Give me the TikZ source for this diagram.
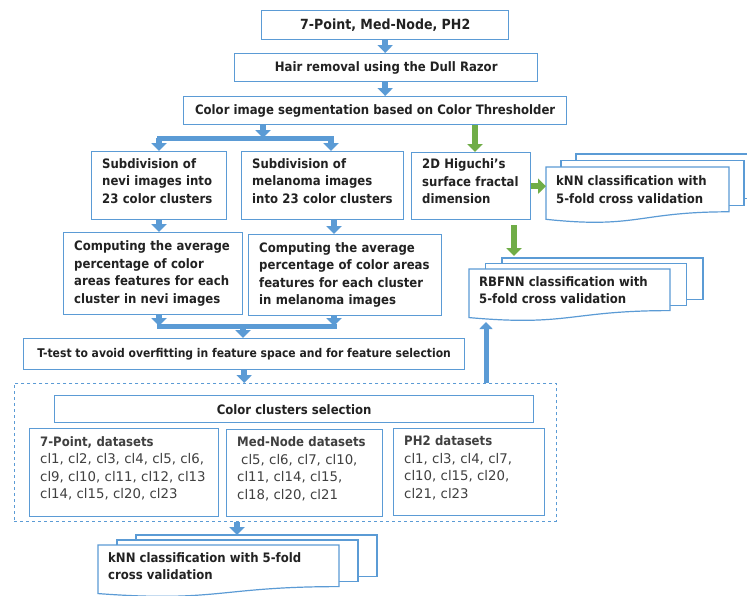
\documentclass[tikz,border=0pt]{standalone}
\usepackage{fontspec}
\setmainfont{DejaVu Sans Condensed}[BoldFont={DejaVu Sans Condensed Bold}]
\newfontfamily\clustfamily{DejaVu Sans}
\newcommand\clustfont{\clustfamily\mdseries\fontsize{13.3}{17.5}\selectfont\color{listtxt}}
\newcommand\liftup{\rule[-10pt]{0pt}{10pt}}
\usetikzlibrary{arrows.meta}

\definecolor{boxblue}{HTML}{5B9BD5}
\definecolor{arrblue}{HTML}{5B9BD5}
\definecolor{arrgreen}{HTML}{70AD47}
\definecolor{txt}{HTML}{222222}
\definecolor{listtxt}{HTML}{404040}

% stacked documents: name, x, y, width, height, dx, dy, text
\newcommand\multidoc[8]{%
  \filldraw[sheet] (#2+2*#6,#3+2*#7) rectangle ++(#4,0.8*#5);
  \filldraw[sheet] (#2+#6,#3+#7) rectangle ++(#4,0.8*#5);
  \filldraw[sheet] (#2,#3) -- (#2+#4,#3) -- (#2+#4,#3+0.8*#5)
    .. controls (#2+0.5*#4,#3+0.8*#5) and (#2+0.5*#4,#3+1.107*#5) .. (#2,#3+0.934*#5) -- cycle;
  \node[anchor=north west,minimum width=#4pt,minimum height={0.8*#5pt},inner sep=0pt] (#1) at (#2,#3) {};
  \node[anchor=west,align=left,inner sep=0pt,text=txt] (#1-txt) at ([xshift=10pt]#1.west) {#8};
}

\begin{document}
\begin{tikzpicture}[x=1pt,y=-1pt,font=\bfseries\fontsize{13}{17.5}\selectfont,
  box/.style={draw=boxblue,line width=1.4pt,fill=white,anchor=north west,inner xsep=10pt,inner ysep=0pt,text=txt},
  sheet/.style={draw=boxblue,line width=1.2pt,fill=white},
  barrow/.style={draw=arrblue,line width=6.5pt,-{Triangle[width=15pt,length=8pt]}},
  garrow/.style={draw=arrgreen,line width=6.5pt,-{Triangle[width=15pt,length=8pt]}},
  bar/.style={draw=arrblue,line width=5pt,line cap=rect}]
\fill[white] (0,0) rectangle (747,595);
\useasboundingbox (0,0) rectangle (747,595);

% main chain
\node[box,minimum width=247pt,minimum height=29pt,font=\bfseries\fontsize{14}{17.5}\selectfont] (data) at (261,10) {7-Point, Med-Node, PH2};
\node[box,minimum width=303pt,minimum height=28pt] (hair) at (234,53) {Hair removal using the Dull Razor};
\node[box,minimum width=383pt,minimum height=28pt] (seg) at (183,96) {Color image segmentation based on Color Thresholder};

\node[box,minimum width=135pt,minimum height=68pt,text width=114pt,align=left] (nsub) at (91,151) {Subdivision of\\nevi images into\\23 color clusters\liftup};
\node[box,minimum width=162pt,minimum height=68pt,text width=141pt,align=left] (msub) at (241,151) {Subdivision of\\melanoma images\\into 23 color clusters\liftup};
\node[box,minimum width=119pt,minimum height=67pt,text width=98pt,align=left] (higu) at (411,152) {2D Higuchi's\\surface fractal\\dimension\liftup};
\node[box,minimum width=179pt,minimum height=82pt,text width=158pt,align=left] (cnevi) at (63,232) {Computing the average\\percentage of color\\areas features for each\\cluster in nevi images};
\node[box,minimum width=193pt,minimum height=81pt,text width=172pt,align=left] (cmel) at (248,234) {Computing the average\\percentage of color areas\\features for each cluster\\in melanoma images};
\node[box,minimum width=441pt,minimum height=31pt,font=\bfseries\fontsize{12}{17.5}\selectfont] (ttest) at (23,338) {T-test to avoid overfitting in feature space and for feature selection};

% selection area
\node[draw=boxblue,dashed,line width=0.9pt,anchor=north west,minimum width=542pt,minimum height=138pt] (selarea) at (14,383) {};
\node[box,minimum width=479pt,minimum height=27pt] (csel) at (54,395) {Color clusters selection};
\node[box,text=listtxt,minimum width=189pt,minimum height=88pt,text width=168pt,align=left] (pt7) at (29,428) {7-Point, datasets\\\clustfont cl1, cl2, cl3, cl4, cl5, cl6,\\cl9, cl10, cl11, cl12, cl13\\cl14, cl15, cl20, cl23\liftup};
\node[box,text=listtxt,minimum width=156pt,minimum height=87pt,text width=135pt,align=left] (mednode) at (226,429) {Med-Node datasets\\\clustfont\hspace*{4pt}cl5, cl6, cl7, cl10,\\cl11, cl14, cl15,\\cl18, cl20, cl21\liftup};
\node[box,text=listtxt,minimum width=151pt,minimum height=87pt,text width=130pt,align=left] (ph2) at (393,428) {PH2 datasets\\\clustfont cl1, cl3, cl4, cl7,\\cl10, cl15, cl20,\\cl21, cl23\liftup};

% classifiers
\multidoc{knnA}{546}{167}{183}{56}{15}{-6.5}{kNN classification with\\5-fold cross validation}
\multidoc{rbf}{469}{269}{201}{52}{16.5}{-5.5}{RBFNN classification with\\5-fold cross validation}
\multidoc{knnB}{98}{545}{241}{52}{19}{-5}{kNN classification with 5-fold\\cross validation}

% connectors
\coordinate (splitL) at (159,138);
\coordinate (splitM) at (263,138);
\coordinate (splitR) at (331,138);
\coordinate (mergeL) at (159,326);
\coordinate (mergeM) at (243,326);
\coordinate (mergeR) at (334,326);
\coordinate (gdown) at (475,152);
\coordinate (rbftop) at (514,256);
\coordinate (rbfbot) at (486,322);
\coordinate (knnBtop) at (237,535);

\draw[barrow] (data.south) -- (data.south |- hair.north);
\draw[barrow] (data.south |- hair.south) -- (data.south |- seg.north);
\draw[bar] (splitL) -- (splitR);
\draw[barrow] (seg.south -| splitM) -- (splitM);
\draw[barrow] (splitL) -- (splitL |- nsub.north);
\draw[barrow] (splitR) -- (splitR |- msub.north);
\draw[barrow] (splitL |- nsub.south) -- (splitL |- cnevi.north);
\draw[barrow] (mergeR |- msub.south) -- (mergeR |- cmel.north);
\draw[barrow] (mergeL |- cnevi.south) -- (mergeL);
\draw[barrow] (mergeR |- cmel.south) -- (mergeR);
\draw[bar] (mergeL) -- (mergeR);
\draw[barrow] (mergeM) -- (mergeM |- ttest.north);
\draw[barrow] (ttest.south) -- (ttest.south |- selarea.north);
\draw[barrow] (selarea.south -| knnBtop) -- (knnBtop);
\draw[barrow,line width=5pt,-{Triangle[width=13pt,length=7pt]}] (selarea.north -| rbfbot) -- (rbfbot);
\draw[garrow] (seg.south -| gdown) -- (gdown);
\draw[garrow] (higu.east) -- (higu.east -| knnA.west);
\draw[garrow,shorten <=5pt] (higu.south -| rbftop) -- (rbftop);
\end{tikzpicture}
\end{document}
